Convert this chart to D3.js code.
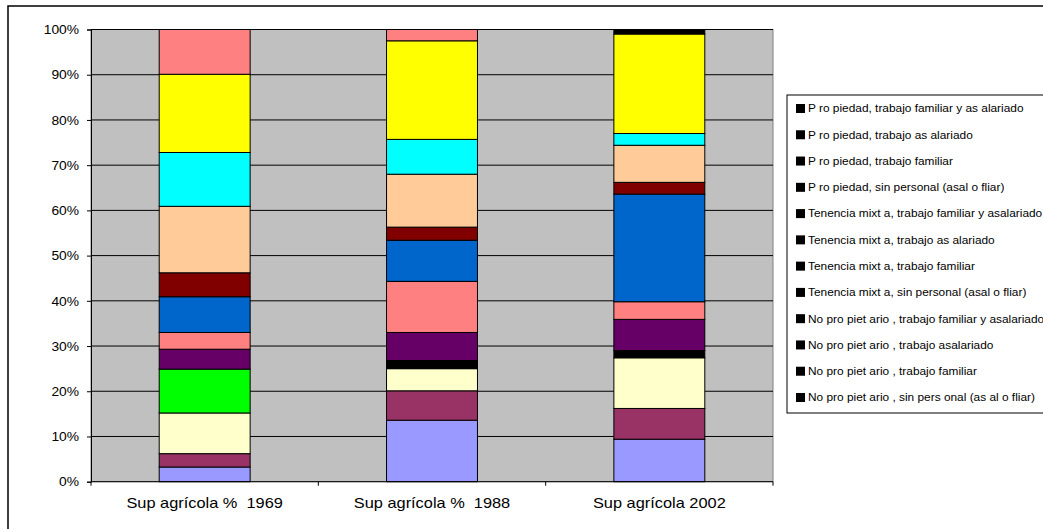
<!DOCTYPE html>
<html><head><meta charset="utf-8">
<script src="https://cdn.jsdelivr.net/npm/d3@7"></script>
<style>body{margin:0;background:#fff;} svg{display:block;font-family:"Liberation Sans",Arial,sans-serif;} text{white-space:pre;}</style>
</head><body>
<svg id="c" width="1043" height="529"></svg>
<script>
// ---- data ----
const categories = ["Sup agrícola %  1969", "Sup agrícola %  1988", "Sup agrícola 2002"];
const yTicks = [0, 0.1, 0.2, 0.3, 0.4, 0.5, 0.6, 0.7, 0.8, 0.9, 1.0];
// series listed from the bottom of the stack to the top
const seriesNames = [
  "No pro piet ario , sin pers onal (as al o fliar)",
  "No pro piet ario , trabajo familiar",
  "No pro piet ario , trabajo asalariado",
  "No pro piet ario , trabajo familiar y asalariado",
  "Tenencia mixt a, sin personal (asal o fliar)",
  "Tenencia mixt a, trabajo familiar",
  "Tenencia mixt a, trabajo as alariado",
  "Tenencia mixt a, trabajo familiar y asalariado",
  "P ro piedad, sin personal (asal o fliar)",
  "P ro piedad, trabajo familiar",
  "P ro piedad, trabajo as alariado",
  "P ro piedad, trabajo familiar y as alariado"
];
const noPropSinPersonal   = [3.25, 13.6, 9.4];
const noPropFamiliar      = [2.95, 6.5, 6.8];
const noPropAsalariado    = [9.0, 4.9, 11.2];
const noPropFamAsal       = [9.7, 1.8, 1.6];
const mixtaSinPersonal    = [4.4, 6.2, 6.9];
const mixtaFamiliar       = [3.7, 11.3, 3.9];
const mixtaAsalariado     = [7.9, 9.1, 23.8];
const mixtaFamAsal        = [5.3, 2.9, 2.6];
const propSinPersonal     = [14.7, 11.7, 8.2];
const propFamiliar        = [11.9, 7.7, 2.6];
const propAsalariado      = [17.3, 21.8, 22.0];
const propFamAsal         = [9.9, 2.5, 1.0];
const seriesValues = [noPropSinPersonal, noPropFamiliar, noPropAsalariado, noPropFamAsal,
  mixtaSinPersonal, mixtaFamiliar, mixtaAsalariado, mixtaFamAsal,
  propSinPersonal, propFamiliar, propAsalariado, propFamAsal];
// fill colour of each segment (per series, per category)
const segmentColors = [
  ["#9999FF", "#9999FF", "#9999FF"],
  ["#993366", "#993366", "#993366"],
  ["#FFFFCC", "#FFFFCC", "#FFFFCC"],
  ["#00FF00", "#000000", "#000000"],
  ["#660066", "#660066", "#660066"],
  ["#FF8080", "#FF8080", "#FF8080"],
  ["#0066CC", "#0066CC", "#0066CC"],
  ["#800000", "#800000", "#800000"],
  ["#FFCC99", "#FFCC99", "#FFCC99"],
  ["#00FFFF", "#00FFFF", "#00FFFF"],
  ["#FFFF00", "#FFFF00", "#FFFF00"],
  ["#FF8080", "#FF8080", "#000000"]
];

// ---- layout ----
const svg = d3.select("#c");
const P = {left: 91, right: 773, top: 29.5, bottom: 481.7};

// outer chart border (extends past the window)
svg.append("rect").attr("x", 8).attr("y", 6).attr("width", 1200).attr("height", 700)
  .attr("fill", "#fff").attr("stroke", "#000").attr("stroke-width", 1.5);

const x = d3.scaleBand().domain(categories).range([P.left, P.right]).paddingInner(0.6).paddingOuter(0.3);
const xOuter = d3.scaleBand().domain(categories).range([P.left, P.right]);
const y = d3.scaleLinear().domain([0, 1]).range([P.bottom, P.top]);

// plot area
svg.append("rect").attr("x", P.left).attr("y", P.top)
  .attr("width", P.right - P.left).attr("height", P.bottom - P.top)
  .attr("fill", "#C0C0C0").attr("stroke", "#808080").attr("stroke-width", 1);

// gridlines
svg.append("g").selectAll("line").data(yTicks.slice(1)).join("line")
  .attr("x1", P.left).attr("x2", P.right)
  .attr("y1", d => y(d)).attr("y2", d => y(d))
  .attr("stroke", "#000").attr("stroke-width", 1);

// stacked bars
const rows = categories.map((c, i) => {
  const r = {cat: c};
  seriesNames.forEach((s, j) => r[s] = seriesValues[j][i]);
  return r;
});
const stacked = d3.stack().keys(seriesNames).offset(d3.stackOffsetExpand)(rows);
svg.append("g").selectAll("g").data(stacked).join("g")
  .each(function(layer, j) {
    d3.select(this).selectAll("rect").data(layer).join("rect")
      .attr("x", d => x(d.data.cat))
      .attr("width", x.bandwidth())
      .attr("y", d => y(d[1]))
      .attr("height", d => y(d[0]) - y(d[1]))
      .attr("fill", (d, i) => segmentColors[j][i])
      .attr("stroke", "#000").attr("stroke-width", 1);
  });

// y axis
const yAxis = svg.append("g").attr("transform", `translate(${P.left},0)`)
  .call(d3.axisLeft(y).tickValues(yTicks).tickFormat(d3.format(".0%")).tickSize(4).tickPadding(0));
yAxis.select(".domain").attr("stroke", "#000");
yAxis.selectAll(".tick line").attr("stroke", "#000");
yAxis.selectAll(".tick text")
  .attr("x", 0).attr("dy", "0.35em")
  .attr("transform", "translate(-12,0) scale(1.15,1)")
  .attr("font-size", 12).attr("fill", "#000")
  .attr("font-family", "Liberation Sans, Arial, sans-serif");

// x axis
const xAxis = svg.append("g").attr("transform", `translate(0,${P.bottom})`)
  .call(d3.axisBottom(xOuter).tickSize(0).tickPadding(0));
xAxis.select(".domain").attr("stroke", "#000").attr("d", `M${P.left},0H${P.right}`);
xAxis.selectAll(".tick text")
  .attr("y", 0).attr("dy", 0)
  .attr("transform", "translate(0,26) scale(1.17,1)")
  .attr("font-size", 14).attr("fill", "#000")
  .attr("font-family", "Liberation Sans, Arial, sans-serif");
// category boundary ticks
const bounds = [...categories.map(c => xOuter(c)), P.right];
svg.append("g").selectAll("line").data(bounds).join("line")
  .attr("x1", d => d).attr("x2", d => d)
  .attr("y1", P.bottom).attr("y2", P.bottom + 4)
  .attr("stroke", "#000").attr("stroke-width", 1);

// legend
const legendItems = seriesNames.slice().reverse();
const lg = svg.append("g");
lg.append("rect").attr("x", 787).attr("y", 95).attr("width", 400).attr("height", 318)
  .attr("fill", "#fff").attr("stroke", "#000").attr("stroke-width", 1);
const ly = d3.scalePoint().domain(legendItems).range([108.5, 397.5]);
const li = lg.selectAll("g.item").data(legendItems).join("g").attr("class", "item")
  .attr("transform", d => `translate(796,${ly(d)})`);
li.append("rect").attr("x", 0).attr("y", -4.5).attr("width", 9).attr("height", 9).attr("fill", "#000");
li.append("text").attr("x", 0).attr("dy", "0.35em")
  .attr("transform", "translate(12,0) scale(1.08,1)")
  .attr("font-size", 11).attr("fill", "#000").text(d => d);
</script>
</body></html>
